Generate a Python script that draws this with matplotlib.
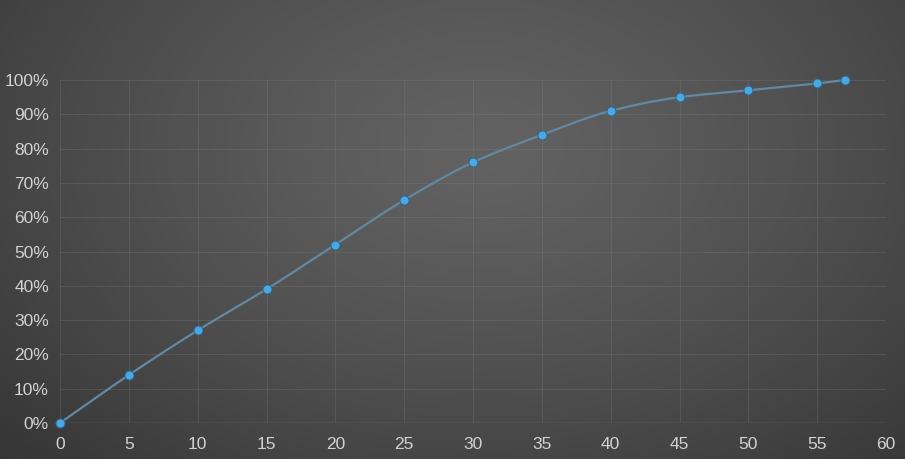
import numpy as np
import matplotlib
matplotlib.use("Agg")
import matplotlib.pyplot as plt
from matplotlib.ticker import FuncFormatter

# Data
minutes = [0, 5, 10, 15, 20, 25, 30, 35, 40, 45, 50, 55, 57]
percent = [0, 14, 27, 39, 52, 65, 76, 84, 91, 95, 97, 99, 100]
x_ticks = [0, 5, 10, 15, 20, 25, 30, 35, 40, 45, 50, 55, 60]
y_ticks = [0, 10, 20, 30, 40, 50, 60, 70, 80, 90, 100]

plt.rcParams['font.family'] = ['Liberation Sans', 'DejaVu Sans']

fig = plt.figure(figsize=(9.05, 4.59), dpi=100)

# Radial gradient background
bg = fig.add_axes([0, 0, 1, 1])
W, H = 905, 459
yy, xx = np.mgrid[0:H, 0:W]
cx, cy = 480, 150
d = np.sqrt(((xx - cx) / 640.0) ** 2 + ((yy - cy) / 430.0) ** 2)
d = np.clip(d, 0, 1)
inner = np.array([0x62, 0x62, 0x62]) / 255.0
outer = np.array([0x37, 0x37, 0x37]) / 255.0
t = d[..., None] ** 1.3
img = inner * (1 - t) + outer * t
bg.imshow(img, aspect='auto', extent=[0, 1, 0, 1], origin='upper')
bg.axis('off')

ax = fig.add_axes([60 / 905, 1 - 423 / 459, (886 - 60) / 905, (423 - 80) / 459])
ax.patch.set_alpha(0)
ax.set_xlim(0, 60)
ax.set_ylim(0, 100)
ax.set_xticks(x_ticks)
ax.set_yticks(y_ticks)
ax.yaxis.set_major_formatter(FuncFormatter(lambda v, p: f"{int(v)}%"))
ax.grid(True, color='#8a8a8a', alpha=0.22, linewidth=0.8)
for s in ax.spines.values():
    s.set_visible(False)
ax.axhline(0, color='#8a8a8a', alpha=0.45, linewidth=1.0, zorder=2)
ax.tick_params(length=0, colors='#d2d2d2', labelsize=12.5)
ax.tick_params(axis='x', pad=10)
ax.tick_params(axis='y', pad=8)

# Smooth curve through points (monotone cubic, rendering only)
xs = np.array(minutes, float)
ys = np.array(percent, float)
h = np.diff(xs)
dlt = np.diff(ys) / h
m = np.zeros_like(xs)
m[0] = dlt[0]
m[-1] = dlt[-1]
for i in range(1, len(xs) - 1):
    if dlt[i - 1] * dlt[i] <= 0:
        m[i] = 0
    else:
        w1 = 2 * h[i] + h[i - 1]
        w2 = h[i] + 2 * h[i - 1]
        m[i] = (w1 + w2) / (w1 / dlt[i - 1] + w2 / dlt[i])
cx_, cy_ = [], []
for i in range(len(xs) - 1):
    tt = np.linspace(0, 1, 40)
    h00 = 2 * tt**3 - 3 * tt**2 + 1
    h10 = tt**3 - 2 * tt**2 + tt
    h01 = -2 * tt**3 + 3 * tt**2
    h11 = tt**3 - tt**2
    cx_.append(xs[i] + tt * h[i])
    cy_.append(h00 * ys[i] + h10 * h[i] * m[i] + h01 * ys[i + 1] + h11 * h[i] * m[i + 1])
cx_ = np.concatenate(cx_)
cy_ = np.concatenate(cy_)
ax.plot(cx_, cy_, color='#6388a2', linewidth=1.6, clip_on=False, zorder=3)
ax.plot(minutes, percent, 'o', color='#4aa8e2', markersize=6.5,
        markeredgecolor='#2c6690', markeredgewidth=0.7, clip_on=False, zorder=4)

fig.savefig('out.png', dpi=100)
